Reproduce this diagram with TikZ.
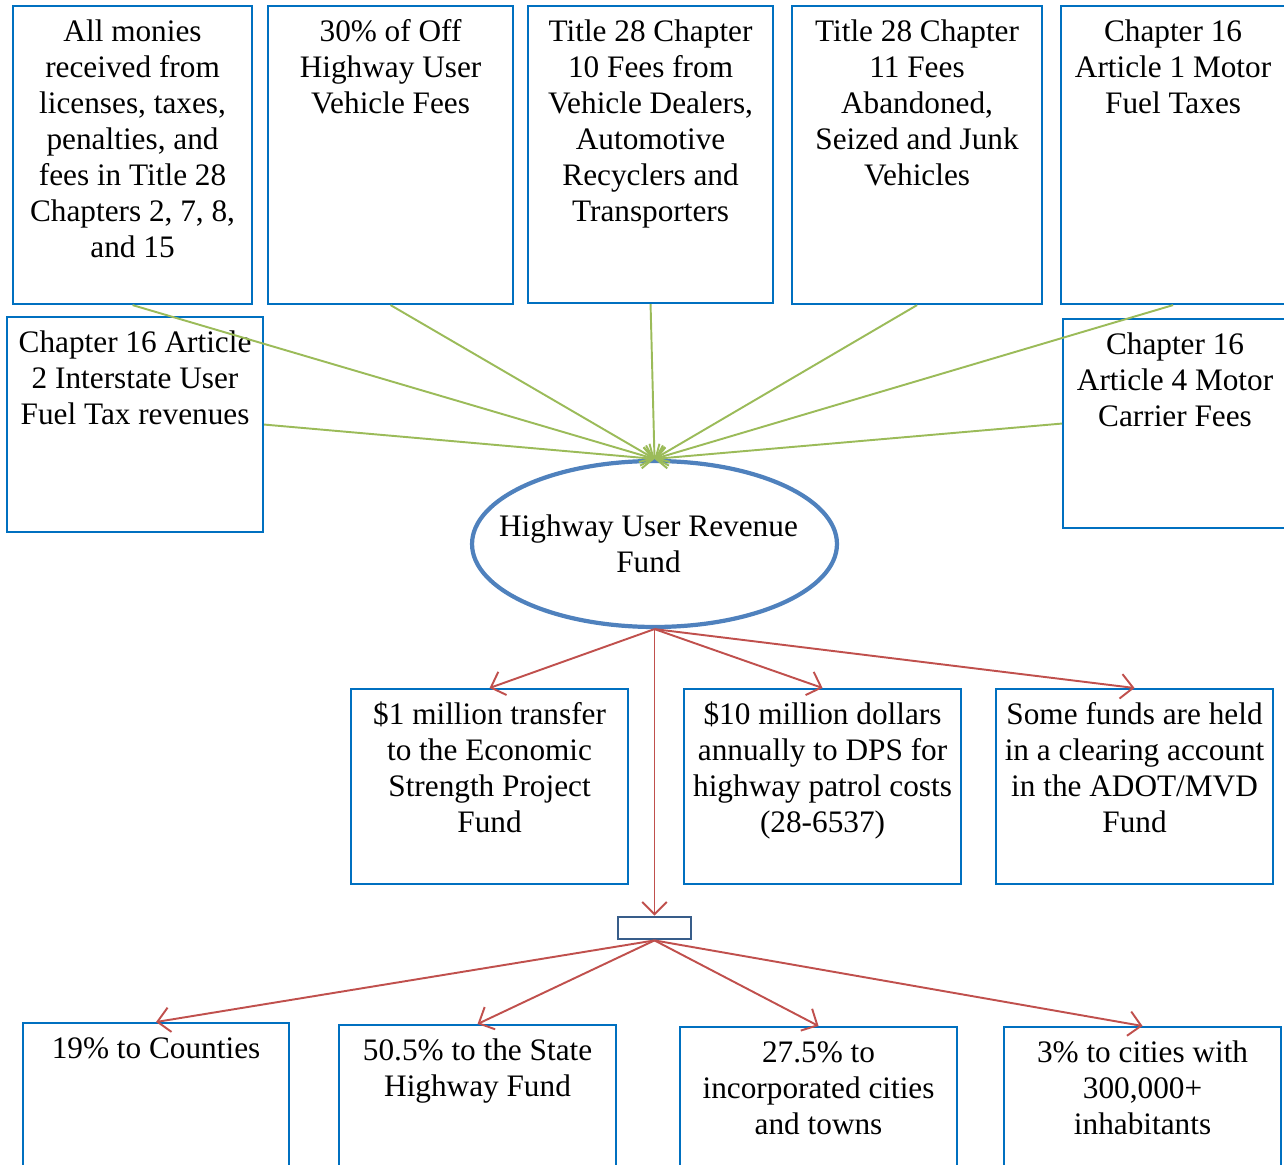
\documentclass[tikz,border=0pt]{standalone}
\usepackage{fontspec}
\setmainfont{Liberation Serif}
\usepackage{xcolor}
\usepackage{tikz}
\usetikzlibrary{positioning, arrows.meta, shapes.geometric}
\definecolor{boxblue}{HTML}{0070C0}
\definecolor{fundblue}{HTML}{4F81BD}
\definecolor{hubblue}{HTML}{385D8A}
\definecolor{feedgreen}{HTML}{9BBB59}
\definecolor{splitred}{HTML}{C0504D}
\newlength{\px}\setlength{\px}{0.02cm}
\newcommand{\boxtext}[3]{\parbox[c][#2\px][t]{#1\px}{\centering\rule{0pt}{20.4pt}#3}}

\begin{document}
\begin{tikzpicture}[x=0.02cm, y=-0.02cm,
    box/.style={draw=boxblue, line width=1.2pt, inner sep=0pt, anchor=north west, font=\fontsize{17.8}{20.5}\selectfont},
    fund/.style={ellipse, draw=fundblue, line width=2.4pt, minimum width=7.3cm, minimum height=3.32cm, inner xsep=-16pt, inner ysep=0pt, align=center, font=\fontsize{17.8}{20.5}\selectfont},
    feed/.style={draw=feedgreen, line width=1.1pt, -{Straight Barb[length=6pt,width=12pt]}},
    split/.style={draw=splitred, line width=1.1pt, -{Straight Barb[length=7pt,width=14pt]}},
  ]
  \useasboundingbox (0,0) rectangle (1284,1165);
  % revenue sources
  \node[box] (src1) at (12,5) {\boxtext{239}{298}{All monies\\received from\\licenses, taxes,\\penalties, and\\fees in Title 28\\Chapters 2, 7, 8,\\and 15}};
  \node[box] (src2) at (267,5) {\boxtext{245}{298}{30\% of Off\\Highway User\\Vehicle Fees}};
  \node[box] (src3) at (527,5) {\boxtext{245}{297}{Title 28 Chapter\\10 Fees from\\Vehicle Dealers,\\Automotive\\Recyclers and\\Transporters}};
  \node[box] (src4) at (791,5) {\boxtext{250}{298}{Title 28 Chapter\\11 Fees\\Abandoned,\\Seized and Junk\\Vehicles}};
  \node[box] (src5) at (1060,5) {\boxtext{224}{298}{Chapter 16\\Article 1 Motor\\Fuel Taxes}};
  \node[box] (src6) at (6,316) {\boxtext{256}{215}{Chapter 16 Article\\2 Interstate User\\Fuel Tax revenues}};
  \node[box] (src7) at (1062,318) {\boxtext{224}{209}{Chapter 16\\Article 4 Motor\\Carrier Fees}};
  % the fund
  \node[fund] (fund) at (654.5,544) {\hspace*{-12\px}Highway User Revenue\\\hspace*{-12\px}Fund};
  % transfers
  \node[box] (give1) at (350,688) {\boxtext{277}{195}{\$1 million transfer\\to the Economic\\Strength Project\\Fund}};
  \node[box] (give2) at (683,688) {\boxtext{277}{195}{\$10 million dollars\\annually to DPS for\\highway patrol costs\\(28-6537)}};
  \node[box] (give3) at (995,688) {\boxtext{277}{195}{Some funds are held\\in a clearing account\\in the ADOT/MVD\\Fund}};
  \node[draw=hubblue, line width=1.6pt, minimum width=1.46cm, minimum height=0.44cm, inner sep=0pt] (hub) at (654.5,928) {};
  % distribution
  \node[box] (share1) at (22,1022) {\boxtext{266}{200}{19\% to Counties}};
  \node[box] (share2) at (338,1024) {\boxtext{277}{200}{50.5\% to the State\\Highway Fund}};
  \node[box] (share3) at (679,1026) {\boxtext{277}{200}{27.5\% to\\incorporated cities\\and towns}};
  \node[box] (share4) at (1003,1026) {\boxtext{277}{200}{3\% to cities with\\300,000+\\inhabitants}};
  % connectors
  \foreach \s/\a in {src1/south, src2/south, src3/south, src4/south, src5/south, src6/east, src7/west}
    \draw[feed] (\s.\a) -- (fund.north);
  \foreach \t in {give1, give2, give3, hub}
    \draw[split] (fund.south) -- (\t.north);
  \foreach \t in {share1, share2, share3, share4}
    \draw[split] (hub.south) -- (\t.north);
\end{tikzpicture}
\end{document}
